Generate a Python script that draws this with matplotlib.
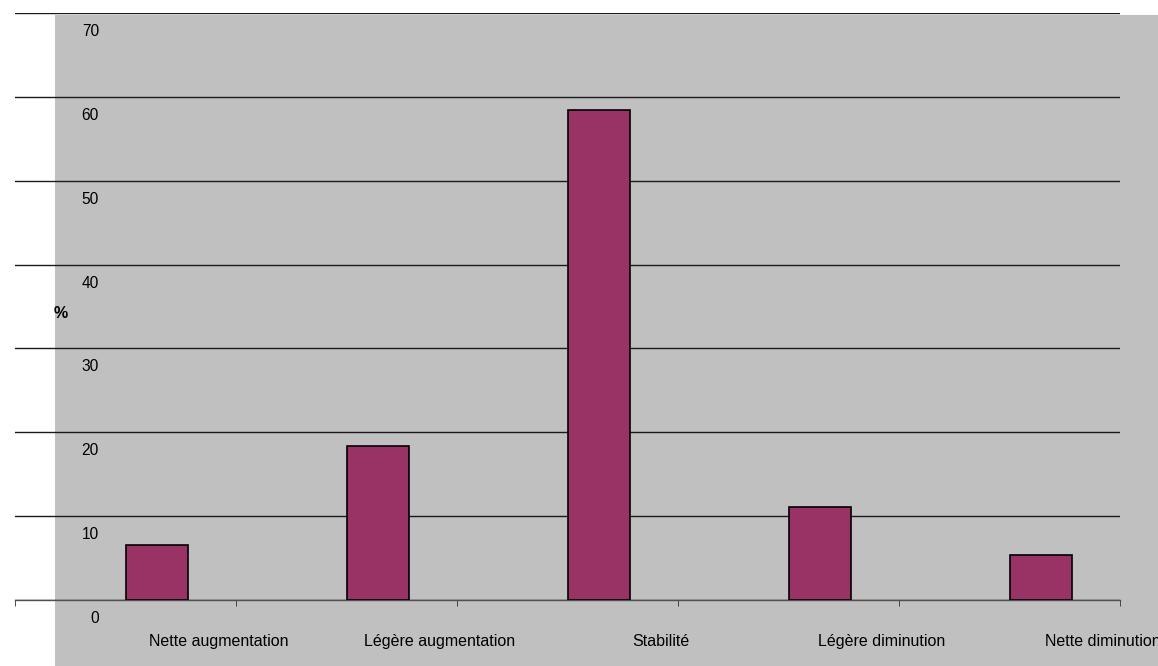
import matplotlib.pyplot as plt
import matplotlib.transforms as mtransforms

categories = ['Nette augmentation', 'Légère augmentation', 'Stabilité',
              'Légère diminution', 'Nette diminution']
values = [6.6, 18.4, 58.4, 11.1, 5.4]
y_ticks = [0, 10, 20, 30, 40, 50, 60, 70]

plt.rcParams['font.family'] = ['Liberation Sans', 'DejaVu Sans']

fig = plt.figure(figsize=(11.58, 6.66), dpi=100)
fig.patch.set_facecolor('white')

# grey plot area background (starts a bit right of the gridlines)
bg = fig.add_axes([55 / 1158, 0, 1 - 55 / 1158, 1 - 14.5 / 666], zorder=-5)
bg.set_facecolor('#c0c0c0')
bg.set_xticks([])
bg.set_yticks([])
for s in bg.spines.values():
    s.set_visible(False)

ax = fig.add_axes([15 / 1158, 1 - 600 / 666, 1105 / 1158, 587 / 666], zorder=1)
ax.set_facecolor('none')

x = list(range(len(categories)))
ax.bar(x, values, width=0.285, align='edge', color='#993366',
       edgecolor='black', linewidth=1.2, zorder=3)

ax.set_xlim(-0.5, len(categories) - 0.5)
ax.set_ylim(0, 70)

for s in ['top', 'right', 'left']:
    ax.spines[s].set_visible(False)
ax.spines['bottom'].set_color('#505050')
ax.spines['bottom'].set_linewidth(1.0)

ax.set_yticks(y_ticks)
ax.set_yticklabels([str(v) for v in y_ticks], fontsize=11.2)
ax.tick_params(axis='y', length=0, pad=0)
ax.yaxis.grid(True, color='#1a1a1a', linewidth=1.0)
ax.set_axisbelow(True)

ax.set_xticks(x)
ax.set_xticklabels(categories, fontsize=11.5)
ax.set_xticks([i - 0.5 for i in range(len(categories) + 1)], minor=True)
ax.tick_params(axis='x', which='major', length=0, pad=0)
ax.tick_params(axis='x', which='minor', length=4, direction='out', color='#303030')

# shift the tick labels to where the original puts them
dpi = fig.dpi
for lbl in ax.get_yticklabels():
    lbl.set_transform(lbl.get_transform() +
                      mtransforms.ScaledTranslation(84 / dpi, -17 / dpi, fig.dpi_scale_trans))
for lbl in ax.get_xticklabels():
    lbl.set_transform(lbl.get_transform() +
                      mtransforms.ScaledTranslation(93 / dpi, -34 / dpi, fig.dpi_scale_trans))

ax.set_ylabel('%', rotation=0, fontsize=11.5, fontweight='bold')
ax.yaxis.set_label_coords(46 / 1105, (600 - 321) / 587)

fig.savefig('out.png', dpi=100)
